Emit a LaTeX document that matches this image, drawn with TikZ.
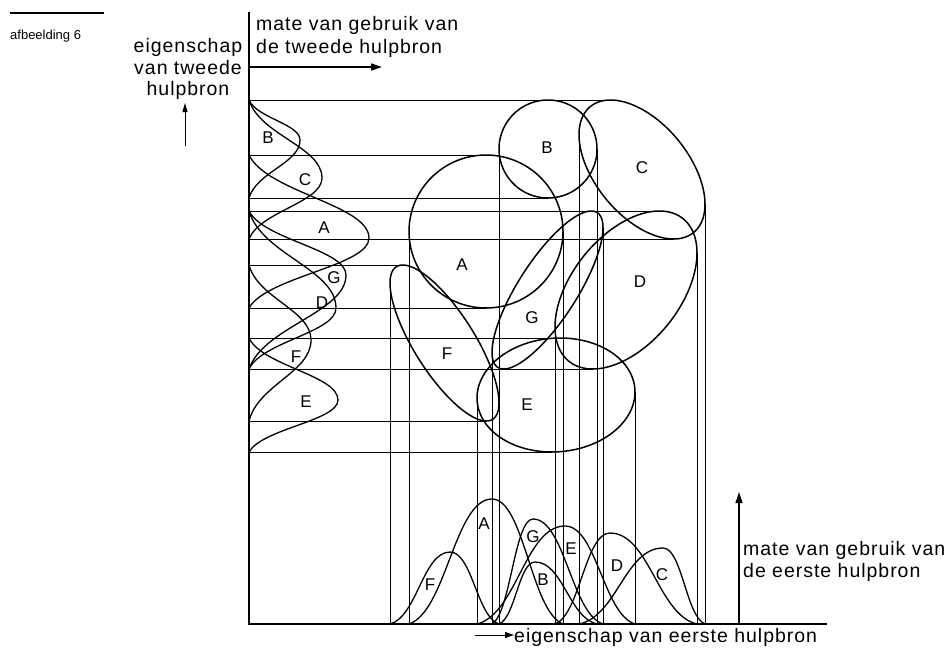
\documentclass[tikz,border=0pt]{standalone}
\usepackage{fontspec}
\setmainfont{Liberation Sans}
\newfontfamily\captfont[LetterSpace=5]{Liberation Sans}
\usetikzlibrary{arrows.meta}
\newcommand\myell[5]{\draw[ell] plot[domain=0:360, samples=145] ({#1+#3*cos(\x)},{#2-#4*sin(\x+#5)}) -- cycle;}
\newcommand\bellbot[4]{\draw[crv] (#1,624) .. controls ({#1+0.45*(#3-#1)},{624-0.1*#4}) and ({#3-0.45*(#3-#1)},{624-#4}) .. (#3,{624-#4}) .. controls ({#3+0.45*(#2-#3)},{624-#4}) and ({#2-0.45*(#2-#3)},{624-0.1*#4}) .. (#2,624);}
\newcommand\bellleft[4]{\draw[crv] (249,#1) .. controls ({249+0.15*#4},{#1+0.45*(#3-#1)}) and ({249+#4},{#3-0.4*(#3-#1)}) .. ({249+#4},#3) .. controls ({249+#4},{#3+0.4*(#2-#3)}) and ({249+0.15*#4},{#2-0.45*(#2-#3)}) .. (249,#2);}
\begin{document}
\begin{tikzpicture}[x=1pt,y=-1pt,
  ell/.style={line width=1.5pt},
  guide/.style={line width=0.9pt},
  crv/.style={line width=1.3pt},
  axisline/.style={line width=2pt},
  txt/.style={font=\captfont\fontsize{19.5}{22}\selectfont, inner sep=0pt, align=left},
  lbl/.style={font=\fontsize{17}{18}\selectfont, inner sep=0pt},
  arr/.style={line width=1.3pt, -{Triangle[length=11pt,width=7pt]}}]
\useasboundingbox (0,0) rectangle (950,653);
% caption
\draw[line width=1.5pt] (10,13) -- (104,13);
\node[font=\fontsize{13}{14}\selectfont, inner sep=0pt, anchor=base west] (fig) at (10,39) {afbeelding 6};
% axes
\coordinate (O) at (249,624);
\coordinate (Ytop) at (249,12);
\coordinate (Xend) at (827,624);
\draw[axisline] (Ytop) -- (O) -- (Xend);
% horizontal guides
\foreach \yy/\xx in {100/610.5,155/486,198/548,211/659.3,239/673.5,265/402.7,308/486,338/560,369/592.7,421/486.3,452/552}
  \draw[guide] (249,\yy) -- (\xx,\yy);
% vertical guides
\foreach \xx/\yy in {390/283.2,409/231.5,477/398,492/352.3,499/149,555/327,563/231.5,579/134.75,597/149,603/227.7,635/392,697/253,705/204.25}
  \draw[guide] (\xx,624) -- (\xx,\yy);
% ellipses
\myell{486}{231.5}{77}{76.5}{0}
\myell{548}{149}{49}{49}{0}
\myell{642}{169.5}{63}{69.5}{-30}
\myell{626}{290}{71}{79}{28}
\myell{547.5}{290}{55.5}{79}{52}
\myell{444.5}{343}{54.5}{78}{-50}
\myell{556}{395}{79}{57}{3}
% left distributions
\bellleft{100}{198}{140}{51}
\bellleft{100}{239}{178}{73}
\bellleft{155}{308}{238}{120}
\bellleft{211}{369}{275}{97}
\bellleft{211}{369}{308}{87}
\bellleft{265}{421}{340}{62}
\bellleft{338}{452}{400}{89}
% bottom distributions
\bellbot{390}{499}{450}{72}
\bellbot{409}{563}{492}{125}
\bellbot{492}{603}{533}{105}
\bellbot{477}{635}{565}{98}
\bellbot{499}{597}{535}{62}
\bellbot{555}{697}{610}{91}
\bellbot{579}{705}{663}{76}
% ellipse labels
\node[lbl] (eB) at (547,148) {B};
\node[lbl] (eC) at (642,168) {C};
\node[lbl] (eA) at (462,265) {A};
\node[lbl] (eD) at (640,282) {D};
\node[lbl] (eG) at (532,318) {G};
\node[lbl] (eF) at (447,354) {F};
\node[lbl] (eE) at (527,405) {E};
% left labels
\node[lbl] (lB) at (268,138) {B};
\node[lbl] (lC) at (305,180) {C};
\node[lbl] (lA) at (324,228) {A};
\node[lbl] (lG) at (334,278) {G};
\node[lbl] (lD) at (322,303) {D};
\node[lbl] (lF) at (296,357) {F};
\node[lbl] (lE) at (306,402) {E};
% bottom labels
\node[lbl] (bF) at (430,585) {F};
\node[lbl] (bA) at (484,524) {A};
\node[lbl] (bG) at (533,537) {G};
\node[lbl] (bE) at (571,549) {E};
\node[lbl] (bB) at (543,580) {B};
\node[lbl] (bD) at (617,566) {D};
\node[lbl] (bC) at (662,575) {C};
% top texts and arrow
\node[txt, anchor=base west] (t1) at (256,30) {mate van gebruik van};
\node[txt, anchor=base west] (t2) at (256,53) {de tweede hulpbron};
\coordinate (ta) at (249,67);
\coordinate (tb) at (382,67);
\draw[arr] (ta) -- (tb);
% left text and arrow
\node[txt, anchor=base] (l1) at (188,52) {eigenschap};
\node[txt, anchor=base] (l2) at (188,74) {van tweede};
\node[txt, anchor=base] (l3) at (188,95) {hulpbron};
\coordinate (ua) at (185,146);
\coordinate (ub) at (185,103);
\draw[line width=1pt, -{Triangle[length=9pt,width=5pt]}] (ua) -- (ub);
% bottom right
\coordinate (ra) at (739,624);
\coordinate (rb) at (739,492);
\draw[arr] (ra) -- (rb);
\node[txt, anchor=base west] (r1) at (743,555) {mate van gebruik van};
\node[txt, anchor=base west] (r2) at (743,577) {de eerste hulpbron};
% bottom text and arrow
\node[txt, anchor=base west] (bt) at (514,642) {eigenschap van eerste hulpbron};
\coordinate (ba) at (475,635);
\draw[line width=1pt, -{Triangle[length=9pt,width=6pt]}] (ba) -- (bt.west |- ba);
\end{tikzpicture}
\end{document}
